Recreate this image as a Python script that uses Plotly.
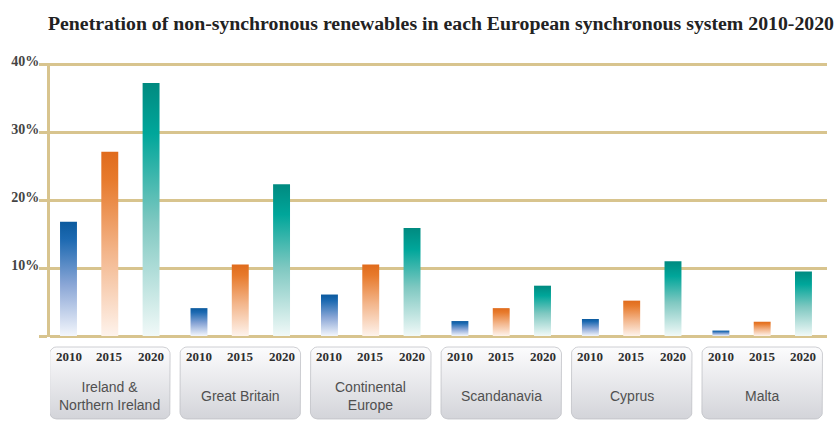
import math
import plotly.graph_objects as go

# ---- data ----
categories = ["Ireland &<br>Northern Ireland", "Great Britain", "Continental<br>Europe",
              "Scandanavia", "Cyprus", "Malta"]
years = ["2010", "2015", "2020"]
v2010 = [16.8, 4.1, 6.1, 2.2, 2.5, 0.8]
v2015 = [27.1, 10.5, 10.5, 4.1, 5.2, 2.1]
v2020 = [37.2, 22.3, 15.9, 7.4, 11.0, 9.5]
ytick_vals = [0, 10, 20, 30, 40]
ytick_text = ["", "10%", "20%", "30%", "40%"]
title_text = "Penetration of non-synchronous renewables in each European synchronous system 2010-2020"

# ---- styling ----
W, H = 837, 421
GROUP_STEP = 3.16      # distance between groups, in bar-slot units
BAR_W = 0.41
TAN = "#d8c48e"
scales = {
    "2010": [[0, "#f3f6fc"], [0.45, "#8aa6d6"], [0.85, "#1c69b1"], [1, "#0b5a9e"]],
    "2015": [[0, "#fef3ec"], [0.45, "#f3b68c"], [0.85, "#e77a2c"], [1, "#e06b1c"]],
    "2020": [[0, "#f1f9f8"], [0.45, "#7fc8c1"], [0.8, "#00a69a"], [1, "#008a80"]],
}
series = {"2010": v2010, "2015": v2015, "2020": v2020}

fig = go.Figure()

bar_pos = []
for gi, cat in enumerate(categories):
    for yi, yr in enumerate(years):
        p = gi * GROUP_STEP + yi
        v = series[yr][gi]
        bar_pos.append((p, yr))
        x0, x1 = p - BAR_W / 2, p + BAR_W / 2
        fig.add_trace(go.Scatter(
            x=[x0, x1, x1, x0, x0], y=[0, 0, v, v, 0],
            mode="lines", fill="toself", line=dict(width=0),
            fillgradient=dict(type="vertical", colorscale=scales[yr], start=0, stop=v),
            hoverinfo="skip", showlegend=False, xaxis="x", yaxis="y"))

# ---- category boxes (rounded, light grey gradient) on a lower strip ----
HALF = 1.46
RPX = 7.0
UNIT_PX = 41.3
top_px, bot_px = 347, 419
for gi, cat in enumerate(categories):
    c = gi * GROUP_STEP + 1
    xl, xr = c - HALF, c + HALF
    rx = RPX / UNIT_PX
    ry = RPX
    xs, ys = [], []
    corners = [
        (xr - rx, top_px + ry, -90, 0),
        (xr - rx, bot_px - ry, 0, 90),
        (xl + rx, bot_px - ry, 90, 180),
        (xl + rx, top_px + ry, 180, 270),
    ]
    for cx, cy, a0, a1 in corners:
        for k in range(7):
            a = math.radians(a0 + (a1 - a0) * k / 6)
            xs.append(cx + rx * math.cos(a))
            ys.append(cy + ry * math.sin(a))
    xs.append(xs[0]); ys.append(ys[0])
    fig.add_trace(go.Scatter(
        x=xs, y=ys, mode="lines", fill="toself",
        line=dict(width=1, color="rgba(185,186,192,0.7)"),
        fillgradient=dict(type="vertical",
                          colorscale=[[0, "#fcfcfd"], [1, "#d3d4d9"]],
                          start=top_px, stop=bot_px),
        hoverinfo="skip", showlegend=False, xaxis="x", yaxis="y2"))
    fig.add_annotation(x=c, y=396, xref="x", yref="y2", text=cat, showarrow=False,
                       font=dict(family="Liberation Sans", size=14, color="#505050"),
                       align="center", xanchor="center", yanchor="middle")

# year labels under each bar
for p, yr in bar_pos:
    fig.add_annotation(x=p, y=356, xref="x", yref="y2", text=yr, showarrow=False,
                       font=dict(family="Liberation Serif", size=13, color="#2e2e2e", weight="bold"),
                       xanchor="center", yanchor="middle")

Y_LO, Y_HI = -0.15, 40.15
PX_PER = 6.8
top_plot = 64 - (Y_HI - 40) * PX_PER
bot_plot = 336 + (0 - Y_LO) * PX_PER
dom_bottom = (H - bot_plot) / (H - top_plot)

fig.update_layout(
    width=W, height=H, autosize=False,
    margin=dict(l=50, r=10, t=top_plot, b=0, pad=0),
    paper_bgcolor="white", plot_bgcolor="white",
    title=dict(text=title_text, x=48 / W, xanchor="left", xref="container",
               y=1 - 23 / H, yanchor="middle", yref="container",
               font=dict(family="Liberation Serif", size=19.8, color="#222222", weight="bold")),
    xaxis=dict(range=[-0.448, 18.37], anchor="y", showgrid=False, zeroline=False,
               showline=False, showticklabels=False, ticks="", automargin=False),
    yaxis=dict(domain=[dom_bottom, 1], range=[Y_LO, Y_HI], tickvals=ytick_vals, ticktext=ytick_text,
               showgrid=True, gridcolor=TAN, gridwidth=3, zeroline=False,
               showline=True, linecolor=TAN, linewidth=3,
               ticks="outside", ticklen=8, tickwidth=3, tickcolor=TAN, automargin=False,
               ticklabelstandoff=-3, ticklabelshift=-3,
               tickfont=dict(family="Liberation Serif", size=14, color="#444444", weight="bold")),
    yaxis2=dict(domain=[0, dom_bottom], range=[H, bot_plot], visible=False, anchor="x",
                automargin=False),
    hovermode=False,
)

fig.write_html("out.html", config={"displayModeBar": False},
               post_script="document.body.style.margin='0';document.body.style.padding='0';")
